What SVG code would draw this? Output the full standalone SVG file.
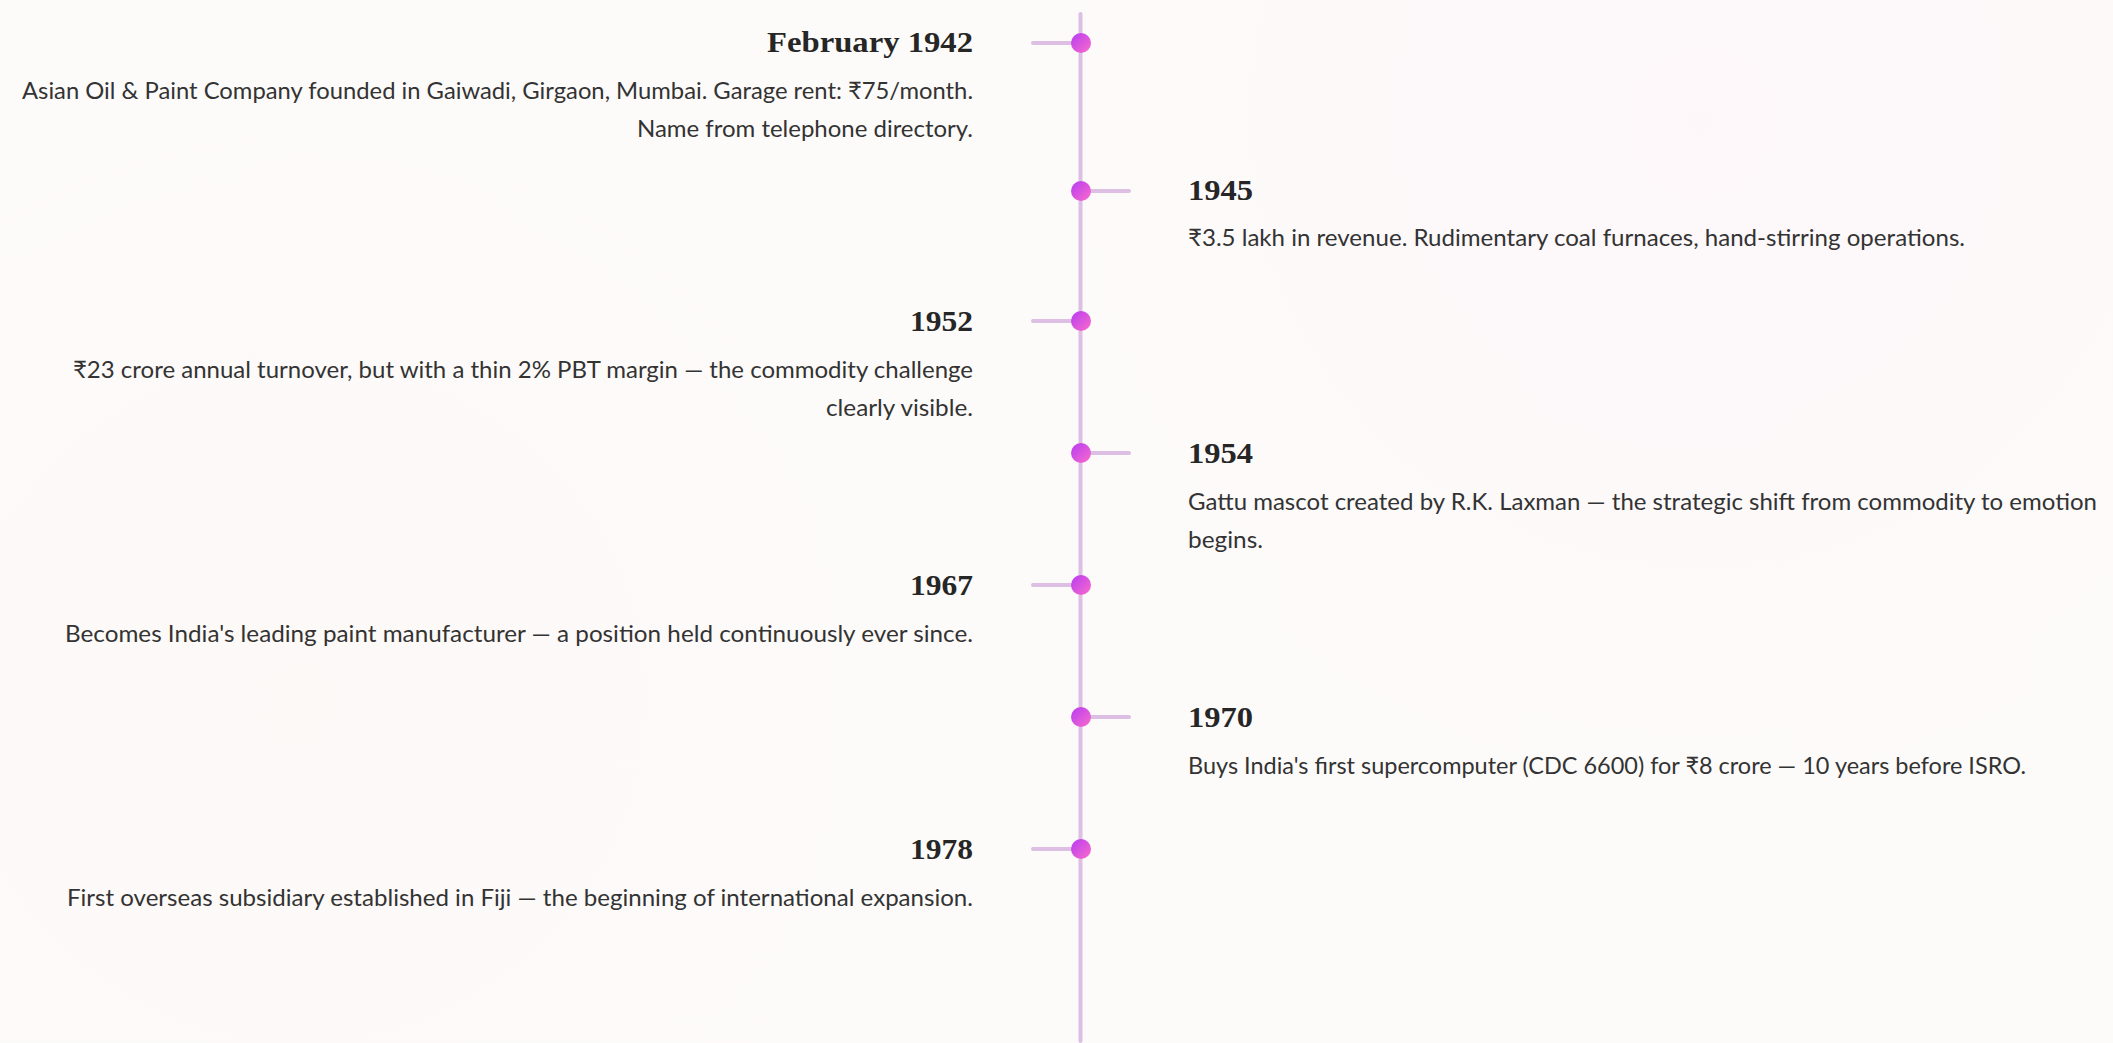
<svg xmlns="http://www.w3.org/2000/svg" width="2113" height="1043" viewBox="0 0 2113 1043">
  <defs>
    <linearGradient id="dotGrad" x1="0" y1="0" x2="1" y2="1">
      <stop offset="0" stop-color="#b63cf2"/>
      <stop offset="1" stop-color="#fb6ccb"/>
    </linearGradient>
    <radialGradient id="bgGlow1" cx="1700" cy="120" r="700" gradientUnits="userSpaceOnUse">
      <stop offset="0" stop-color="#fdf7f9"/>
      <stop offset="1" stop-color="#fdf7f9" stop-opacity="0"/>
    </radialGradient>
    <radialGradient id="bgGlow2" cx="300" cy="700" r="600" gradientUnits="userSpaceOnUse">
      <stop offset="0" stop-color="#fcf9f7"/>
      <stop offset="1" stop-color="#fcf9f7" stop-opacity="0"/>
    </radialGradient>
    <style>
      .title { font-family: "Liberation Serif", "DejaVu Serif", serif; font-weight: bold; font-size: 30px; fill: #262626; }
      .desc { font-family: Lato, "Noto Sans", sans-serif; font-size: 24px; fill: #333333; }
      .left { text-anchor: end; }
      .spine { stroke: #dcbfe2; stroke-width: 4; stroke-linecap: round; fill: none; }
      .tick { stroke: #dcbfe2; stroke-width: 4; stroke-linecap: round; }
      .dot { fill: url(#dotGrad); }
    </style>
  </defs>

  <rect x="0" y="0" width="2113" height="1043" fill="#fdfbfa"/>
  <rect x="0" y="0" width="2113" height="1043" fill="url(#bgGlow1)"/>
  <rect x="0" y="0" width="2113" height="1043" fill="url(#bgGlow2)"/>

  <g id="connectors">
    <line class="spine" x1="1080.5" y1="14" x2="1080.5" y2="1041"/>
    <line class="tick" x1="1033" y1="43" x2="1080" y2="43"/>
    <line class="tick" x1="1081" y1="191" x2="1129" y2="191"/>
    <line class="tick" x1="1033" y1="321" x2="1080" y2="321"/>
    <line class="tick" x1="1081" y1="453" x2="1129" y2="453"/>
    <line class="tick" x1="1033" y1="585" x2="1080" y2="585"/>
    <line class="tick" x1="1081" y1="717" x2="1129" y2="717"/>
    <line class="tick" x1="1033" y1="849" x2="1080" y2="849"/>
  </g>

  <g id="event-1942">
    <circle class="dot" cx="1081" cy="43" r="10"/>
    <text class="title left" x="973" y="52" textLength="206" lengthAdjust="spacingAndGlyphs">February 1942</text>
    <text class="desc left" x="973" y="99" textLength="951" lengthAdjust="spacingAndGlyphs">Asian Oil &amp; Paint Company founded in Gaiwadi, Girgaon, Mumbai. Garage rent: ₹75/month.</text>
    <text class="desc left" x="973" y="137" textLength="336" lengthAdjust="spacingAndGlyphs">Name from telephone directory.</text>
  </g>

  <g id="event-1945">
    <circle class="dot" cx="1081" cy="191" r="10"/>
    <text class="title" x="1188" y="200" textLength="65" lengthAdjust="spacingAndGlyphs">1945</text>
    <text class="desc" x="1188" y="246" textLength="777" lengthAdjust="spacingAndGlyphs">₹3.5 lakh in revenue. Rudimentary coal furnaces, hand-stirring operations.</text>
  </g>

  <g id="event-1952">
    <circle class="dot" cx="1081" cy="321" r="10"/>
    <text class="title left" x="973" y="331" textLength="63" lengthAdjust="spacingAndGlyphs">1952</text>
    <text class="desc left" x="973" y="378" textLength="900" lengthAdjust="spacingAndGlyphs">₹23 crore annual turnover, but with a thin 2% PBT margin — the commodity challenge</text>
    <text class="desc left" x="973" y="416" textLength="147" lengthAdjust="spacingAndGlyphs">clearly visible.</text>
  </g>

  <g id="event-1954">
    <circle class="dot" cx="1081" cy="453" r="10"/>
    <text class="title" x="1188" y="463" textLength="65" lengthAdjust="spacingAndGlyphs">1954</text>
    <text class="desc" x="1188" y="510" textLength="909" lengthAdjust="spacingAndGlyphs">Gattu mascot created by R.K. Laxman — the strategic shift from commodity to emotion</text>
    <text class="desc" x="1188" y="548" textLength="75" lengthAdjust="spacingAndGlyphs">begins.</text>
  </g>

  <g id="event-1967">
    <circle class="dot" cx="1081" cy="585" r="10"/>
    <text class="title left" x="973" y="595" textLength="63" lengthAdjust="spacingAndGlyphs">1967</text>
    <text class="desc left" x="973" y="642" textLength="908" lengthAdjust="spacingAndGlyphs">Becomes India's leading paint manufacturer — a position held continuously ever since.</text>
  </g>

  <g id="event-1970">
    <circle class="dot" cx="1081" cy="717" r="10"/>
    <text class="title" x="1188" y="727" textLength="65" lengthAdjust="spacingAndGlyphs">1970</text>
    <text class="desc" x="1188" y="774" textLength="838" lengthAdjust="spacingAndGlyphs">Buys India's first supercomputer (CDC 6600) for ₹8 crore — 10 years before ISRO.</text>
  </g>

  <g id="event-1978">
    <circle class="dot" cx="1081" cy="849" r="10"/>
    <text class="title left" x="973" y="859" textLength="63" lengthAdjust="spacingAndGlyphs">1978</text>
    <text class="desc left" x="973" y="906" textLength="906" lengthAdjust="spacingAndGlyphs">First overseas subsidiary established in Fiji — the beginning of international expansion.</text>
  </g>
</svg>
